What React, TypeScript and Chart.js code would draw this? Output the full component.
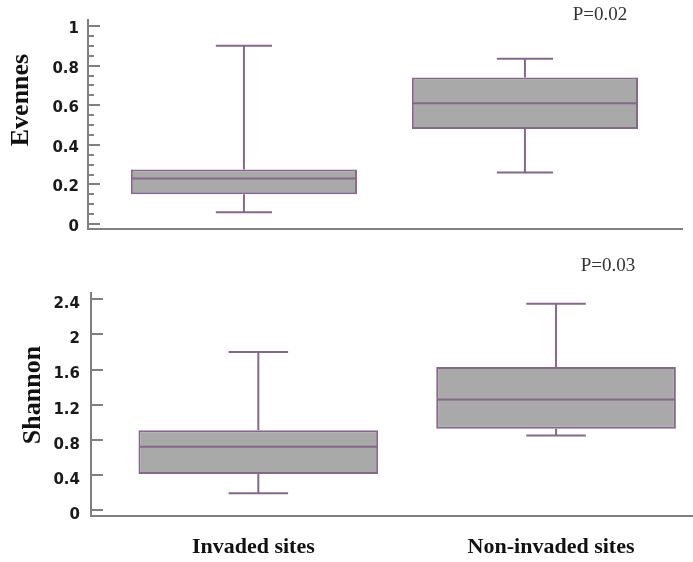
import React, { useEffect, useRef } from 'react';
import { Chart, registerables } from 'chart.js';

Chart.register(...registerables);

// ---- data ----
const categories = ['Invaded sites', 'Non-invaded sites'];
const categoryPositions = [1, 2];

const evenMin = [0.06, 0.26];
const evenQ1 = [0.15, 0.48];
const evenMedian = [0.23, 0.61];
const evenQ3 = [0.275, 0.74];
const evenMax = [0.9, 0.835];

const shanMin = [0.19, 0.85];
const shanQ1 = [0.41, 0.925];
const shanMedian = [0.72, 1.26];
const shanQ3 = [0.91, 1.63];
const shanMax = [1.8, 2.35];

const evenTitle = 'Evennes';
const shanTitle = 'Shannon';
const evenPText = 'P=0.02';
const shanPText = 'P=0.03';

// ---- styles ----
const STROKE = '#86698a';
const FILL = '#a9a9a9';
const AXIS = '#808080';
const CAP_HALF = 0.1;

type Params = {
  width: number;
  height: number;
  min: number[];
  q1: number[];
  median: number[];
  q3: number[];
  max: number[];
  yMin: number;
  yMax: number;
  yStep: number;
  majorStep: number;
  xMin: number;
  xMax: number;
  padding: { top: number; right: number; bottom: number; left: number };
  yAxisWidth: number;
  xAxisHeight: number;
  labelPadding: number;
  labelOffset: number;
  showXLabels: boolean;
  xLabelPadding: number;
  title: string;
  titleX: number;
  titleY: number;
  pText: string;
  pX: number;
  pY: number;
};

function isMajor(v: number, step: number) {
  const r = v / step;
  return Math.abs(r - Math.round(r)) < 1e-6;
}

function buildConfig(p: Params): any {
  const decorations = {
    id: 'boxDecorations',
    afterDatasetsDraw(chart: any) {
      const ctx = chart.ctx;
      const xs = chart.scales.x;
      const ys = chart.scales.y;
      const meta = chart.getDatasetMeta(0);
      ctx.save();
      ctx.strokeStyle = STROKE;
      ctx.lineWidth = 2;
      meta.data.forEach((bar: any, i: number) => {
        const props = bar.getProps(['x', 'y', 'base', 'width'], true);
        const cx = props.x;
        const top = Math.min(props.y, props.base);
        const bottom = Math.max(props.y, props.base);
        const capL = xs.getPixelForValue(categoryPositions[i] - CAP_HALF);
        const capR = xs.getPixelForValue(categoryPositions[i] + CAP_HALF);
        const yHi = ys.getPixelForValue(p.max[i]);
        const yLo = ys.getPixelForValue(p.min[i]);
        const yMed = ys.getPixelForValue(p.median[i]);
        ctx.beginPath();
        ctx.moveTo(cx, top);
        ctx.lineTo(cx, yHi);
        ctx.moveTo(capL, yHi);
        ctx.lineTo(capR, yHi);
        ctx.moveTo(cx, bottom);
        ctx.lineTo(cx, yLo);
        ctx.moveTo(capL, yLo);
        ctx.lineTo(capR, yLo);
        ctx.moveTo(cx - props.width / 2 + 1, yMed);
        ctx.lineTo(cx + props.width / 2 - 1, yMed);
        ctx.stroke();
      });
      ctx.restore();
    },
    afterDraw(chart: any) {
      const ctx = chart.ctx;
      const ys = chart.scales.y;
      const left = chart.chartArea.left;
      ctx.save();
      ctx.strokeStyle = AXIS;
      ctx.lineWidth = 2;
      ctx.beginPath();
      ys.ticks.forEach((t: any) => {
        const py = Math.round(ys.getPixelForValue(t.value));
        const len = isMajor(t.value, p.majorStep) ? 12 : 6;
        ctx.moveTo(left, py);
        ctx.lineTo(left + len, py);
      });
      ctx.stroke();

      // y-axis title
      ctx.fillStyle = '#111';
      ctx.font = 'bold 26px "Liberation Serif", "Times New Roman", serif';
      ctx.textAlign = 'center';
      ctx.textBaseline = 'alphabetic';
      ctx.save();
      ctx.translate(p.titleX, p.titleY);
      ctx.rotate(-Math.PI / 2);
      ctx.fillText(p.title, 0, 0);
      ctx.restore();

      // P value annotation
      ctx.fillStyle = '#333';
      ctx.font = '19px "Liberation Serif", "Times New Roman", serif';
      ctx.textAlign = 'center';
      ctx.textBaseline = 'middle';
      ctx.fillText(p.pText, p.pX, p.pY);
      ctx.restore();
    },
  };

  return {
    type: 'bar',
    data: {
      datasets: [
        {
          data: categoryPositions.map((x, i) => ({ x, y: [p.q1[i], p.q3[i]] })),
          backgroundColor: FILL,
          borderColor: STROKE,
          borderWidth: 2,
          borderSkipped: false,
          barPercentage: 0.805,
          categoryPercentage: 1,
        },
      ],
    },
    options: {
      responsive: false,
      animation: false,
      devicePixelRatio: 1,
      layout: { padding: p.padding },
      plugins: {
        legend: { display: false },
        tooltip: { enabled: false },
      },
      scales: {
        x: {
          type: 'linear',
          offset: false,
          min: p.xMin,
          max: p.xMax,
          afterBuildTicks: (s: any) => {
            s.ticks = categoryPositions.map((v) => ({ value: v }));
          },
          afterFit: (s: any) => {
            s.height = p.xAxisHeight;
          },
          grid: { display: false, drawTicks: false, offset: false },
          border: { display: true, color: AXIS, width: 2 },
          ticks: {
            display: p.showXLabels,
            padding: p.xLabelPadding,
            labelOffset: -5,
            color: '#111',
            maxRotation: 0,
            autoSkip: false,
            font: { family: '"Liberation Serif", "Times New Roman", serif', size: 22, weight: 'bold' },
            callback: (_v: any, i: number) => categories[i],
          },
        },
        y: {
          type: 'linear',
          min: p.yMin,
          max: p.yMax,
          afterFit: (s: any) => {
            s.width = p.yAxisWidth;
          },
          grid: { display: false, drawTicks: false },
          border: { display: true, color: AXIS, width: 2 },
          ticks: {
            stepSize: p.yStep,
            includeBounds: false,
            padding: p.labelPadding,
            labelOffset: p.labelOffset,
            color: '#1a1a1a',
            autoSkip: false,
            font: { family: '"DejaVu Sans", sans-serif', size: 15, weight: 'bold' },
            callback: (v: any) => (isMajor(v, p.majorStep) ? String(Math.round(v * 10) / 10) : ''),
          },
        },
      },
    },
    plugins: [decorations],
  };
}

function BoxChart({ params }: { params: Params }) {
  const ref = useRef<HTMLCanvasElement | null>(null);
  useEffect(() => {
    if (!ref.current) return;
    const chart = new Chart(ref.current, buildConfig(params));
    return () => chart.destroy();
  }, [params]);
  return (
    <canvas
      ref={ref}
      width={params.width}
      height={params.height}
      style={{ display: 'block', width: params.width, height: params.height }}
    />
  );
}

const topParams: Params = {
  width: 693,
  height: 250,
  min: evenMin,
  q1: evenQ1,
  median: evenMedian,
  q3: evenQ3,
  max: evenMax,
  yMin: -0.025,
  yMax: 1.0306,
  yStep: 0.05,
  majorStep: 0.2,
  xMin: 0.445,
  xMax: 2.559,
  padding: { top: 20, right: 11, bottom: 21, left: 0 },
  yAxisWidth: 88,
  xAxisHeight: 0,
  labelPadding: 9,
  labelOffset: 3,
  showXLabels: false,
  xLabelPadding: 0,
  title: evenTitle,
  titleX: 28,
  titleY: 100,
  pText: evenPText,
  pX: 600,
  pY: 15,
};

const bottomParams: Params = {
  width: 693,
  height: 312,
  min: shanMin,
  q1: shanQ1,
  median: shanMedian,
  q3: shanQ3,
  max: shanMax,
  yMin: -0.068,
  yMax: 2.472,
  yStep: 0.4,
  majorStep: 0.4,
  xMin: 0.438,
  xMax: 2.46,
  padding: { top: 43, right: 0, bottom: 0, left: 0 },
  yAxisWidth: 91,
  xAxisHeight: 46,
  labelPadding: 11,
  labelOffset: 5,
  showXLabels: true,
  xLabelPadding: 18,
  title: shanTitle,
  titleX: 40,
  titleY: 145,
  pText: shanPText,
  pX: 608,
  pY: 16,
};

export default function App() {
  return (
    <div
      style={{
        position: 'fixed',
        left: 0,
        top: 0,
        width: 693,
        height: 562,
        background: '#fff',
        overflow: 'hidden',
      }}
    >
      <BoxChart params={topParams} />
      <BoxChart params={bottomParams} />
    </div>
  );
}
